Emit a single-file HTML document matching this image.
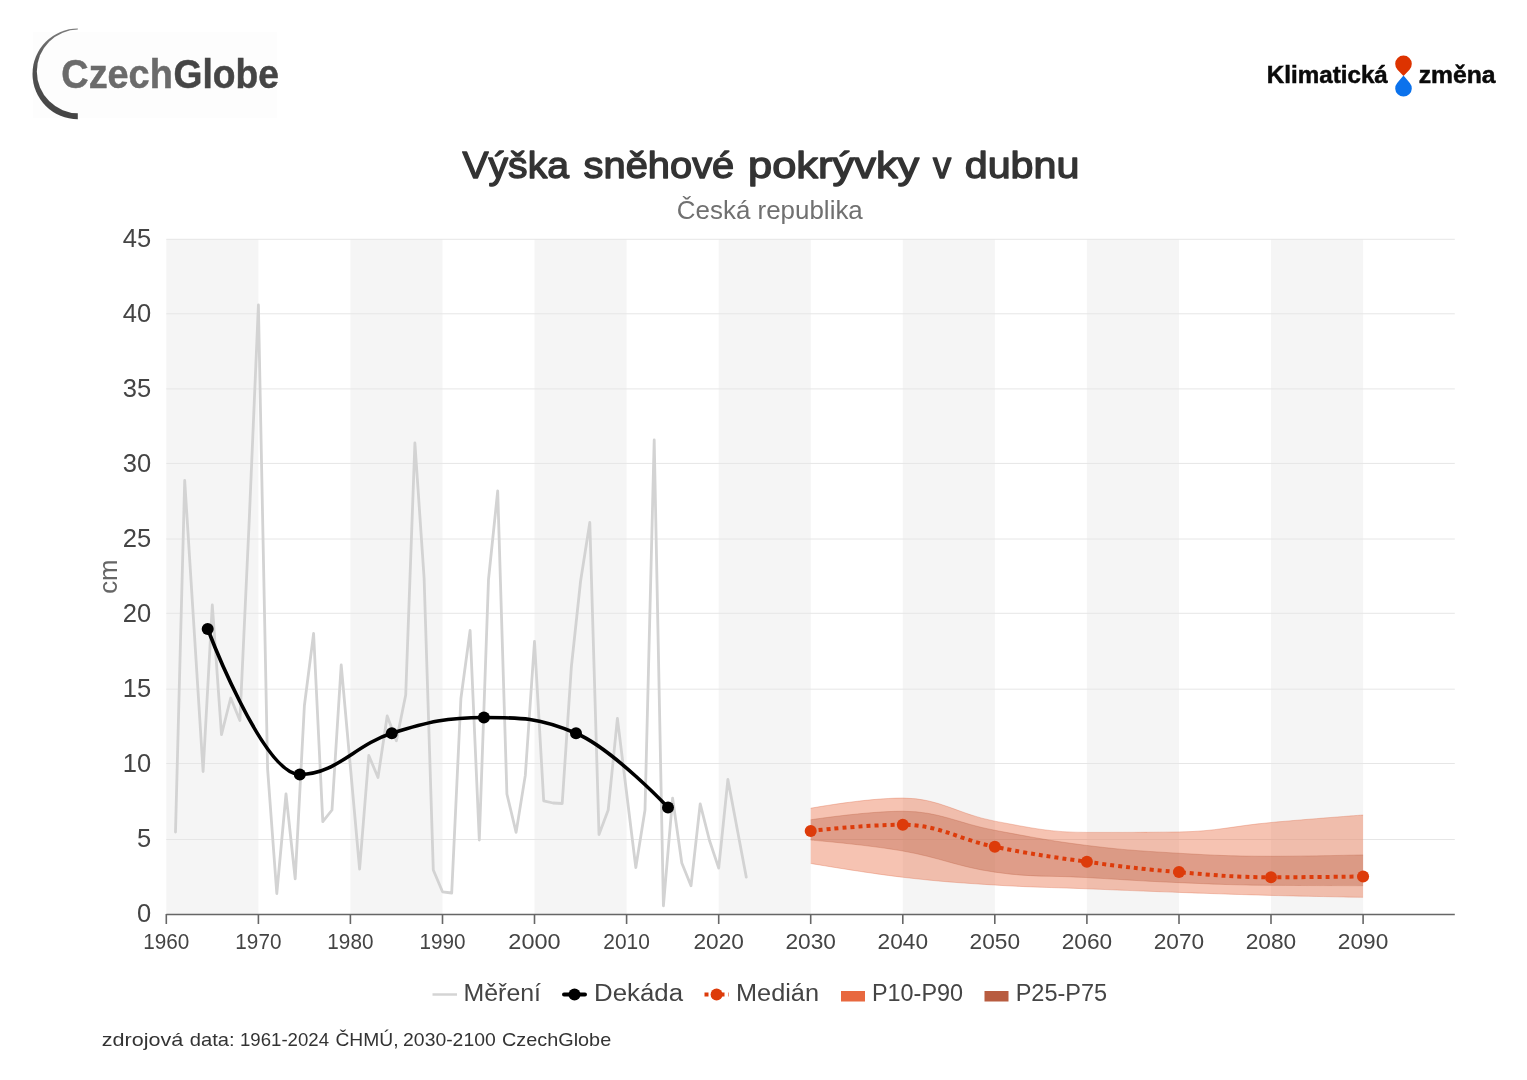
<!DOCTYPE html>
<html lang="cs"><head><meta charset="utf-8"><title>Výška sněhové pokrývky v dubnu</title>
<style>html,body{margin:0;padding:0;background:#fff}body{width:1527px;height:1080px;overflow:hidden}svg{display:block}text{font-family:"Liberation Sans",sans-serif}</style>
</head><body>
<svg width="1527" height="1080" viewBox="0 0 1527 1080">
<rect width="1527" height="1080" fill="#fff"/>
<defs><linearGradient id="cg" x1="0" y1="0" x2="0" y2="1"><stop offset="0" stop-color="#7a7a7a"/><stop offset="0.45" stop-color="#505050"/><stop offset="1" stop-color="#444"/></linearGradient>
<clipPath id="cgc"><rect x="20" y="20" width="57.8" height="110"/></clipPath>
<mask id="cgm"><rect x="0" y="0" width="200" height="150" fill="#fff"/><circle cx="78.8" cy="71.4" r="41.95" fill="#000"/></mask></defs>
<rect x="33" y="32" width="244" height="86" fill="#fdfdfd"/>
<g clip-path="url(#cgc)"><circle cx="77.8" cy="73.9" r="45.3" fill="url(#cg)" mask="url(#cgm)"/></g>
<text y="87.9" font-size="40" font-weight="bold" stroke-width="0.5"><tspan x="61.3" fill="#6b6b6b" stroke="#6b6b6b" textLength="111.5" lengthAdjust="spacingAndGlyphs">Czech</tspan><tspan x="173.6" fill="#454545" stroke="#454545" textLength="105.3" lengthAdjust="spacingAndGlyphs">Globe</tspan></text>
<text x="1266.8" y="82.6" font-size="24" font-weight="bold" fill="#0a0a0a" stroke="#0a0a0a" stroke-width="0.5" textLength="121" lengthAdjust="spacingAndGlyphs">Klimatická</text>
<text x="1418.7" y="82.6" font-size="24" font-weight="bold" fill="#0a0a0a" stroke="#0a0a0a" stroke-width="0.5" textLength="76.8" lengthAdjust="spacingAndGlyphs">změna</text>
<path d="M 1403.50 75.90 L 1397.51 69.64 A 8.30 8.30 0 1 1 1409.49 69.64 Z" fill="#dd3300"/>
<path d="M 1403.50 75.50 L 1397.18 82.92 A 8.30 8.30 0 1 0 1409.82 82.92 Z" fill="#0b72ec"/>
<text y="178" font-size="37.5" fill="#333" stroke="#333" stroke-width="1.35" stroke-linejoin="round"><tspan x="462.50" textLength="106.40" lengthAdjust="spacingAndGlyphs">Výška</tspan> <tspan x="583.60" textLength="150.70" lengthAdjust="spacingAndGlyphs">sněhové</tspan> <tspan x="748.10" textLength="171.20" lengthAdjust="spacingAndGlyphs">pokrývky</tspan> <tspan x="932.90" textLength="18.20" lengthAdjust="spacingAndGlyphs">v</tspan> <tspan x="964.70" textLength="114.70" lengthAdjust="spacingAndGlyphs">dubnu</tspan></text>
<text x="769.8" y="218.8" font-size="25" fill="#707070" text-anchor="middle" textLength="186" lengthAdjust="spacingAndGlyphs">Česká republika</text>
<rect x="166.3" y="239" width="92.1" height="675" fill="#f5f5f5"/>
<rect x="350.4" y="239" width="92.1" height="675" fill="#f5f5f5"/>
<rect x="534.5" y="239" width="92.1" height="675" fill="#f5f5f5"/>
<rect x="718.7" y="239" width="92.1" height="675" fill="#f5f5f5"/>
<rect x="902.8" y="239" width="92.1" height="675" fill="#f5f5f5"/>
<rect x="1086.9" y="239" width="92.1" height="675" fill="#f5f5f5"/>
<rect x="1271.0" y="239" width="92.1" height="675" fill="#f5f5f5"/>
<path d="M 166.3 239.3 H 1454.8" stroke="#e6e6e6" stroke-width="1" fill="none"/>
<path d="M 166.3 313.8 H 1454.8" stroke="#e6e6e6" stroke-width="1" fill="none"/>
<path d="M 166.3 388.9 H 1454.8" stroke="#e6e6e6" stroke-width="1" fill="none"/>
<path d="M 166.3 463.4 H 1454.8" stroke="#e6e6e6" stroke-width="1" fill="none"/>
<path d="M 166.3 539.0 H 1454.8" stroke="#e6e6e6" stroke-width="1" fill="none"/>
<path d="M 166.3 613.3 H 1454.8" stroke="#e6e6e6" stroke-width="1" fill="none"/>
<path d="M 166.3 689.2 H 1454.8" stroke="#e6e6e6" stroke-width="1" fill="none"/>
<path d="M 166.3 763.5 H 1454.8" stroke="#e6e6e6" stroke-width="1" fill="none"/>
<path d="M 166.3 839.5 H 1454.8" stroke="#e6e6e6" stroke-width="1" fill="none"/>
<path d="M 810.72 808.25 C 810.72 808.25 865.96 798.05 902.78 798.05 C 939.60 798.05 958.02 814.28 994.84 821.15 C 1031.66 828.02 1050.08 832.40 1086.90 832.40 C 1123.72 832.40 1142.14 832.40 1178.96 831.95 C 1215.78 831.50 1234.20 825.89 1271.02 822.50 C 1307.84 819.11 1363.08 815.00 1363.08 815.00 L 1363.08 897.35 C 1363.08 897.35 1307.84 896.39 1271.02 895.40 C 1234.20 894.41 1215.78 893.72 1178.96 892.40 C 1142.14 891.08 1123.72 890.27 1086.90 888.80 C 1050.08 887.33 1031.66 887.36 994.84 885.05 C 958.02 882.74 939.60 881.57 902.78 877.25 C 865.96 872.93 810.72 863.45 810.72 863.45 Z" fill="#e8683f" fill-opacity="0.4"/>
<path d="M 810.72 808.25 C 810.72 808.25 865.96 798.05 902.78 798.05 C 939.60 798.05 958.02 814.28 994.84 821.15 C 1031.66 828.02 1050.08 832.40 1086.90 832.40 C 1123.72 832.40 1142.14 832.40 1178.96 831.95 C 1215.78 831.50 1234.20 825.89 1271.02 822.50 C 1307.84 819.11 1363.08 815.00 1363.08 815.00" fill="none" stroke="#d9603a" stroke-opacity="0.3" stroke-width="1"/>
<path d="M 810.72 863.45 C 810.72 863.45 865.96 872.93 902.78 877.25 C 939.60 881.57 958.02 882.74 994.84 885.05 C 1031.66 887.36 1050.08 887.33 1086.90 888.80 C 1123.72 890.27 1142.14 891.08 1178.96 892.40 C 1215.78 893.72 1234.20 894.41 1271.02 895.40 C 1307.84 896.39 1363.08 897.35 1363.08 897.35" fill="none" stroke="#d9603a" stroke-opacity="0.3" stroke-width="1"/>
<path d="M 810.72 819.80 C 810.72 819.80 865.96 811.25 902.78 811.25 C 939.60 811.25 958.02 823.46 994.84 830.30 C 1031.66 837.14 1050.08 840.86 1086.90 845.45 C 1123.72 850.04 1142.14 851.09 1178.96 853.25 C 1215.78 855.41 1234.20 856.25 1271.02 856.25 C 1307.84 856.25 1363.08 854.90 1363.08 854.90 L 1363.08 885.65 C 1363.08 885.65 1307.84 885.65 1271.02 885.35 C 1234.20 885.05 1215.78 884.21 1178.96 882.65 C 1142.14 881.09 1123.72 879.65 1086.90 877.55 C 1050.08 875.45 1031.66 877.46 994.84 872.15 C 958.02 866.84 939.60 857.42 902.78 851.00 C 865.96 844.58 810.72 840.05 810.72 840.05 Z" fill="#b85c40" fill-opacity="0.36"/>
<path d="M 810.72 819.80 C 810.72 819.80 865.96 811.25 902.78 811.25 C 939.60 811.25 958.02 823.46 994.84 830.30 C 1031.66 837.14 1050.08 840.86 1086.90 845.45 C 1123.72 850.04 1142.14 851.09 1178.96 853.25 C 1215.78 855.41 1234.20 856.25 1271.02 856.25 C 1307.84 856.25 1363.08 854.90 1363.08 854.90" fill="none" stroke="#b85c40" stroke-opacity="0.3" stroke-width="1"/>
<path d="M 810.72 840.05 C 810.72 840.05 865.96 844.58 902.78 851.00 C 939.60 857.42 958.02 866.84 994.84 872.15 C 1031.66 877.46 1050.08 875.45 1086.90 877.55 C 1123.72 879.65 1142.14 881.09 1178.96 882.65 C 1215.78 884.21 1234.20 885.05 1271.02 885.35 C 1307.84 885.65 1363.08 885.65 1363.08 885.65" fill="none" stroke="#b85c40" stroke-opacity="0.3" stroke-width="1"/>
<polyline points="175.5 832.0 184.7 480.5 193.9 626.0 203.1 771.5 212.3 605.0 221.5 734.6 230.7 698.0 239.9 720.5 249.2 521.0 258.4 305.0 267.6 769.2 276.8 893.5 286.0 794.0 295.2 878.8 304.4 705.5 313.6 633.5 322.8 821.6 332.0 810.0 341.2 665.0 350.4 767.0 359.6 869.0 368.8 755.5 378.0 777.5 387.2 716.0 396.4 740.8 405.7 695.0 414.9 443.0 424.1 578.0 433.3 870.0 442.5 891.8 451.7 893.0 460.9 698.5 470.1 630.5 479.3 840.0 488.5 579.5 497.7 491.0 506.9 794.0 516.1 832.4 525.3 775.4 534.5 641.5 543.7 800.8 553.0 803.0 562.2 803.5 571.4 666.5 580.6 581.0 589.8 522.5 599.0 834.5 608.2 810.0 617.4 718.4 626.6 793.0 635.8 867.5 645.0 810.0 654.2 440.0 663.4 905.8 672.6 798.2 681.8 863.0 691.0 885.8 700.2 803.9 709.5 840.5 718.7 868.1 727.9 779.5 737.1 828.5 746.3 877.2" fill="none" stroke="#d3d3d3" stroke-width="2.8" stroke-linejoin="round" stroke-linecap="round"/>
<path d="M 207.73 629.00 C 207.73 629.00 262.96 774.50 299.79 774.50 C 336.61 774.50 355.02 744.65 391.85 733.25 C 428.67 721.85 447.08 717.50 483.91 717.50 C 520.73 717.50 539.14 717.50 575.97 733.25 C 612.79 749.00 668.03 807.50 668.03 807.50" fill="none" stroke="#000" stroke-width="3.6" stroke-linejoin="round" stroke-linecap="round"/>
<circle cx="207.7" cy="629.0" r="6" fill="#000"/>
<circle cx="299.8" cy="774.5" r="6" fill="#000"/>
<circle cx="391.8" cy="733.2" r="6" fill="#000"/>
<circle cx="483.9" cy="717.5" r="6" fill="#000"/>
<circle cx="576.0" cy="733.2" r="6" fill="#000"/>
<circle cx="668.0" cy="807.5" r="6" fill="#000"/>
<path d="M 810.72 830.90 C 810.72 830.90 865.96 824.75 902.78 824.75 C 939.60 824.75 958.02 839.39 994.84 846.80 C 1031.66 854.21 1050.08 856.73 1086.90 861.80 C 1123.72 866.87 1142.14 869.06 1178.96 872.15 C 1215.78 875.24 1234.20 877.25 1271.02 877.25 C 1307.84 877.25 1363.08 876.50 1363.08 876.50" fill="none" stroke="#dd3b0a" stroke-width="4" stroke-dasharray="4 4"/>
<circle cx="810.7" cy="830.9" r="6" fill="#dd3b0a"/>
<circle cx="902.8" cy="824.8" r="6" fill="#dd3b0a"/>
<circle cx="994.8" cy="846.8" r="6" fill="#dd3b0a"/>
<circle cx="1086.9" cy="861.8" r="6" fill="#dd3b0a"/>
<circle cx="1179.0" cy="872.1" r="6" fill="#dd3b0a"/>
<circle cx="1271.0" cy="877.2" r="6" fill="#dd3b0a"/>
<circle cx="1363.1" cy="876.5" r="6" fill="#dd3b0a"/>
<path d="M 166.3 914.5 H 1454.8" stroke="#666" stroke-width="1.5" fill="none"/>
<path d="M 166.3 914 V 924" stroke="#666" stroke-width="1.6" fill="none"/>
<path d="M 258.4 914 V 924" stroke="#666" stroke-width="1.6" fill="none"/>
<path d="M 350.4 914 V 924" stroke="#666" stroke-width="1.6" fill="none"/>
<path d="M 442.5 914 V 924" stroke="#666" stroke-width="1.6" fill="none"/>
<path d="M 534.5 914 V 924" stroke="#666" stroke-width="1.6" fill="none"/>
<path d="M 626.6 914 V 924" stroke="#666" stroke-width="1.6" fill="none"/>
<path d="M 718.7 914 V 924" stroke="#666" stroke-width="1.6" fill="none"/>
<path d="M 810.7 914 V 924" stroke="#666" stroke-width="1.6" fill="none"/>
<path d="M 902.8 914 V 924" stroke="#666" stroke-width="1.6" fill="none"/>
<path d="M 994.8 914 V 924" stroke="#666" stroke-width="1.6" fill="none"/>
<path d="M 1086.9 914 V 924" stroke="#666" stroke-width="1.6" fill="none"/>
<path d="M 1179.0 914 V 924" stroke="#666" stroke-width="1.6" fill="none"/>
<path d="M 1271.0 914 V 924" stroke="#666" stroke-width="1.6" fill="none"/>
<path d="M 1363.1 914 V 924" stroke="#666" stroke-width="1.6" fill="none"/>
<text x="166.3" y="949.1" font-size="22" fill="#444" text-anchor="middle" textLength="46.1" lengthAdjust="spacingAndGlyphs">1960</text>
<text x="258.4" y="949.1" font-size="22" fill="#444" text-anchor="middle" textLength="46.1" lengthAdjust="spacingAndGlyphs">1970</text>
<text x="350.4" y="949.1" font-size="22" fill="#444" text-anchor="middle" textLength="46.1" lengthAdjust="spacingAndGlyphs">1980</text>
<text x="442.5" y="949.1" font-size="22" fill="#444" text-anchor="middle" textLength="46.1" lengthAdjust="spacingAndGlyphs">1990</text>
<text x="534.5" y="949.1" font-size="22" fill="#444" text-anchor="middle" textLength="52.3" lengthAdjust="spacingAndGlyphs">2000</text>
<text x="626.6" y="949.1" font-size="22" fill="#444" text-anchor="middle" textLength="46.6" lengthAdjust="spacingAndGlyphs">2010</text>
<text x="718.7" y="949.1" font-size="22" fill="#444" text-anchor="middle" textLength="50.5" lengthAdjust="spacingAndGlyphs">2020</text>
<text x="810.7" y="949.1" font-size="22" fill="#444" text-anchor="middle" textLength="50.5" lengthAdjust="spacingAndGlyphs">2030</text>
<text x="902.8" y="949.1" font-size="22" fill="#444" text-anchor="middle" textLength="50.5" lengthAdjust="spacingAndGlyphs">2040</text>
<text x="994.8" y="949.1" font-size="22" fill="#444" text-anchor="middle" textLength="50.5" lengthAdjust="spacingAndGlyphs">2050</text>
<text x="1086.9" y="949.1" font-size="22" fill="#444" text-anchor="middle" textLength="50.5" lengthAdjust="spacingAndGlyphs">2060</text>
<text x="1179.0" y="949.1" font-size="22" fill="#444" text-anchor="middle" textLength="50.5" lengthAdjust="spacingAndGlyphs">2070</text>
<text x="1271.0" y="949.1" font-size="22" fill="#444" text-anchor="middle" textLength="50.5" lengthAdjust="spacingAndGlyphs">2080</text>
<text x="1363.1" y="949.1" font-size="22" fill="#444" text-anchor="middle" textLength="50.5" lengthAdjust="spacingAndGlyphs">2090</text>
<text x="151.2" y="922.2" font-size="25.5" fill="#444" text-anchor="end">0</text>
<text x="151.2" y="847.2" font-size="25.5" fill="#444" text-anchor="end">5</text>
<text x="151.2" y="772.2" font-size="25.5" fill="#444" text-anchor="end">10</text>
<text x="151.2" y="697.2" font-size="25.5" fill="#444" text-anchor="end">15</text>
<text x="151.2" y="622.2" font-size="25.5" fill="#444" text-anchor="end">20</text>
<text x="151.2" y="547.2" font-size="25.5" fill="#444" text-anchor="end">25</text>
<text x="151.2" y="472.2" font-size="25.5" fill="#444" text-anchor="end">30</text>
<text x="151.2" y="397.2" font-size="25.5" fill="#444" text-anchor="end">35</text>
<text x="151.2" y="322.2" font-size="25.5" fill="#444" text-anchor="end">40</text>
<text x="151.2" y="247.2" font-size="25.5" fill="#444" text-anchor="end">45</text>
<text transform="translate(116.5 576.7) rotate(-90)" font-size="26.5" fill="#666" text-anchor="middle" textLength="34.3" lengthAdjust="spacingAndGlyphs">cm</text>
<path d="M 432.5 994.5 H 457" stroke="#d4d4d4" stroke-width="2.5" fill="none"/>
<text x="463.5" y="1001.3" font-size="23.5" fill="#444" textLength="77.5" lengthAdjust="spacingAndGlyphs">Měření</text>
<path d="M 564 994.5 H 585" stroke="#000" stroke-width="4" stroke-linecap="round" fill="none"/>
<circle cx="574.5" cy="994.5" r="6" fill="#000"/>
<text x="594" y="1001.3" font-size="23.5" fill="#444" textLength="89" lengthAdjust="spacingAndGlyphs">Dekáda</text>
<path d="M 704.5 994.5 H 729" stroke="#dd3b0a" stroke-width="4" stroke-dasharray="4 4" fill="none"/>
<circle cx="716.6" cy="994.5" r="6" fill="#dd3b0a"/>
<text x="736" y="1001.3" font-size="23.5" fill="#444" textLength="83" lengthAdjust="spacingAndGlyphs">Medián</text>
<rect x="841" y="991" width="24" height="10.5" fill="#e8683f"/>
<text x="872" y="1001.3" font-size="23.5" fill="#444" textLength="91" lengthAdjust="spacingAndGlyphs">P10-P90</text>
<rect x="984.5" y="991" width="24" height="10.5" fill="#b85c40"/>
<text x="1015.7" y="1001.3" font-size="23.5" fill="#444" textLength="91.5" lengthAdjust="spacingAndGlyphs">P25-P75</text>
<text y="1046.3" font-size="19" fill="#333"><tspan x="101.8" textLength="81.5" lengthAdjust="spacingAndGlyphs">zdrojová</tspan> <tspan x="189.7" textLength="44.9" lengthAdjust="spacingAndGlyphs">data:</tspan> <tspan x="240.0" textLength="89.0" lengthAdjust="spacingAndGlyphs">1961-2024</tspan> <tspan x="335.4" textLength="63.1" lengthAdjust="spacingAndGlyphs">ČHMÚ,</tspan> <tspan x="403.1" textLength="92.6" lengthAdjust="spacingAndGlyphs">2030-2100</tspan> <tspan x="502.0" textLength="109.2" lengthAdjust="spacingAndGlyphs">CzechGlobe</tspan></text>
</svg>
</body></html>
